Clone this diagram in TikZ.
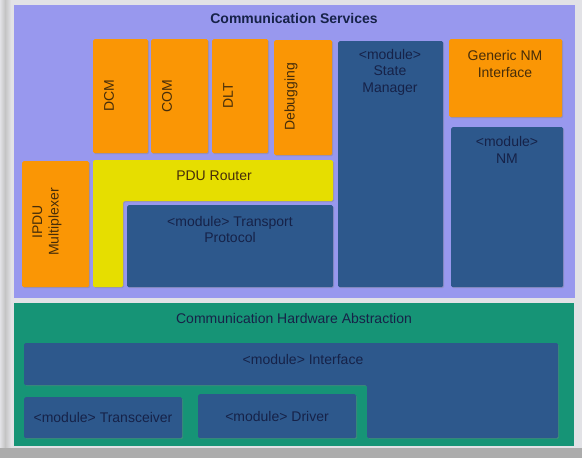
\documentclass[tikz,border=0pt]{standalone}
\usepackage{fontspec}
\setmainfont{Liberation Sans}
\usetikzlibrary{shadows}

\definecolor{pagebg}{RGB}{226,226,230}
\definecolor{edgegray}{RGB}{196,196,196}
\definecolor{bottomgray}{RGB}{172,172,172}
\definecolor{servicebg}{RGB}{152,152,238}
\definecolor{hwbg}{RGB}{22,148,118}
\definecolor{modblue}{RGB}{45,88,140}
\definecolor{modorange}{RGB}{250,150,5}
\definecolor{routeryellow}{RGB}{230,222,0}
\definecolor{navytext}{RGB}{22,34,72}
\definecolor{browntext}{RGB}{70,45,10}

\begin{document}
\begin{tikzpicture}[x=1pt, y=-1pt,
    layer/.style = {rectangle, inner sep=0pt, anchor=north west},
    part/.style = {rectangle, rounded corners=1.5pt, inner sep=0pt, anchor=north west,
                   drop shadow={shadow xshift=1pt, shadow yshift=-1pt, opacity=0.35}},
    orangebox/.style = {part, fill=modorange},
    bluebox/.style = {part, fill=modblue},
    txt/.style = {inner sep=0pt, align=center, font=\fontsize{14}{16.5}\selectfont},
    bluetxt/.style = {txt, text=navytext},
    orangetxt/.style = {txt, text=browntext},
    sidetxt/.style = {orangetxt, rotate=90}]

    % page
    \useasboundingbox (0,0) rectangle (582,458);
    \fill[pagebg] (0,0) rectangle (582,458);
    \shade[left color=pagebg, right color=edgegray] (0,0) rectangle (5,458);
    \shade[left color=edgegray, right color=pagebg] (5,0) rectangle (11,458);
    \fill[bottomgray] (0,448) rectangle (582,458);

    % the two layers
    \node[layer, fill=servicebg, minimum width=561pt, minimum height=293pt] (services) at (14,5) {};
    \node[txt, font=\fontsize{14}{16.5}\selectfont\bfseries, text=navytext] (servicestitle) at (294,18) {Communication Services};

    \node[layer, fill=hwbg, minimum width=560pt, minimum height=143pt] (hwabs) at (14,303) {};
    \node[txt, text=navytext] (hwtitle) at (294,318) {Communication Hardware Abstraction};

    % upper modules
    \node[orangebox, minimum width=55pt, minimum height=114pt] (dcm) at (93,39) {};
    \node[sidetxt] (dcmtxt) at (109,96) {DCM};
    \node[orangebox, minimum width=57pt, minimum height=114pt] (com) at (151,39) {};
    \node[sidetxt] (comtxt) at (167,96) {COM};
    \node[orangebox, minimum width=56pt, minimum height=114pt] (dlt) at (212,39) {};
    \node[sidetxt] (dlttxt) at (228,96) {DLT};
    \node[orangebox, minimum width=58pt, minimum height=115pt] (debug) at (274,40) {};
    \node[sidetxt] (debugtxt) at (291,97) {Debugging};

    \node[bluebox, minimum width=105pt, minimum height=246pt] (statemgr) at (338,41) {};
    \node[bluetxt] (statemgrtxt) at (390,72) {<module>\\State\\Manager};

    \node[orangebox, minimum width=113pt, minimum height=78pt] (gennm) at (449,39) {};
    \node[orangetxt] (gennmtxt) at (505,64) {Generic NM\\Interface};

    \node[bluebox, minimum width=112pt, minimum height=160pt] (nm) at (451,127) {};
    \node[bluetxt] (nmtxt) at (507,150) {<module>\\NM};

    \node[orangebox, minimum width=67pt, minimum height=126pt] (ipdu) at (22,161) {};
    \node[sidetxt] (ipdutxt) at (47,222) {IPDU\\Multiplexer};

    % PDU router wraps the transport protocol
    \fill[routeryellow, rounded corners=1.5pt, drop shadow={shadow xshift=1pt, shadow yshift=-1pt, opacity=0.35}]
        (93,160) -- (333,160) -- (333,201) -- (123,201) -- (123,287) -- (93,287) -- cycle;
    \node[txt, text=browntext] (routertxt) at (214,176) {PDU Router};

    \node[bluebox, minimum width=206pt, minimum height=82pt] (transport) at (127,205) {};
    \node[bluetxt] (transporttxt) at (230,229.5) {<module> Transport\\Protocol};

    % hardware abstraction modules
    \fill[modblue, rounded corners=1.5pt, drop shadow={shadow xshift=1pt, shadow yshift=-1pt, opacity=0.35}]
        (24,343) -- (558,343) -- (558,438) -- (367,438) -- (367,385) -- (24,385) -- cycle;
    \node[bluetxt] (interfacetxt) at (303,359) {<module> Interface};

    \node[bluebox, minimum width=158pt, minimum height=41pt] (transceiver) at (24,397) {};
    \node[bluetxt] (transceivertxt) at (103,417) {<module> Transceiver};
    \node[bluebox, minimum width=158pt, minimum height=44pt] (driver) at (198,394) {};
    \node[bluetxt] (drivertxt) at (277,416) {<module> Driver};
\end{tikzpicture}
\end{document}
